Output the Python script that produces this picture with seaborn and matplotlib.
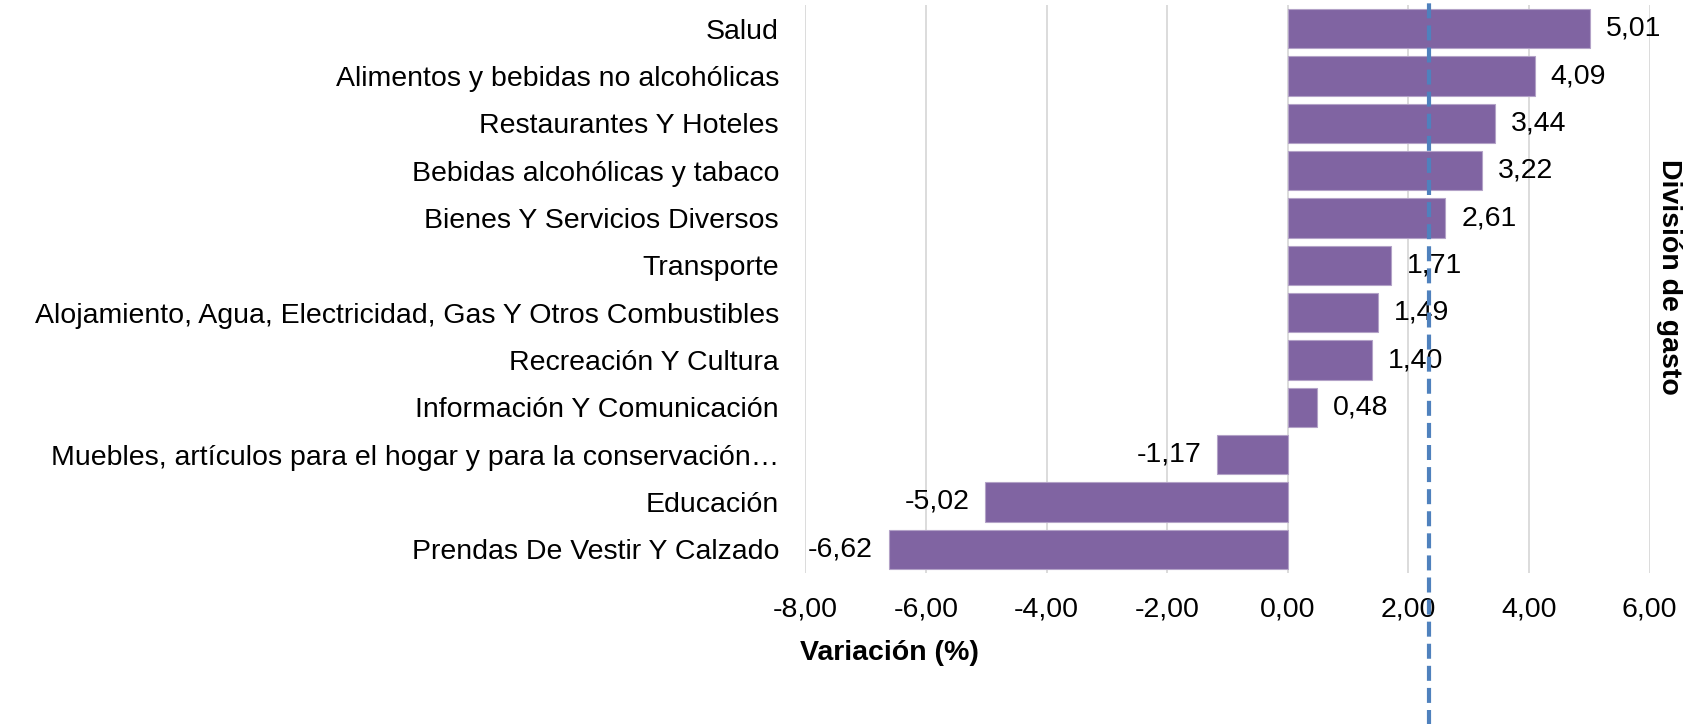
import pandas as pd
import matplotlib.pyplot as plt
import seaborn as sns
from matplotlib.ticker import FuncFormatter

plt.switch_backend("Agg")

categorias = [
    "Salud",
    "Alimentos y bebidas no alcohólicas",
    "Restaurantes Y Hoteles",
    "Bebidas alcohólicas y tabaco",
    "Bienes Y Servicios Diversos",
    "Transporte",
    "Alojamiento, Agua, Electricidad, Gas Y Otros Combustibles",
    "Recreación Y Cultura",
    "Información Y Comunicación",
    "Muebles, artículos para el hogar y para la conservación…",
    "Educación",
    "Prendas De Vestir Y Calzado",
]
variacion = [5.01, 4.09, 3.44, 3.22, 2.61, 1.71, 1.49, 1.40, 0.48, -1.17, -5.02, -6.62]
promedio = 2.34
x_ticks = [-8, -6, -4, -2, 0, 2, 4, 6]

df = pd.DataFrame({"division": categorias, "variacion": variacion})

sns.set_style("white", {"text.color": "black", "axes.labelcolor": "black",
                        "xtick.color": "black", "ytick.color": "black"})
plt.rcParams["font.family"] = ["Liberation Sans", "DejaVu Sans"]
fs = 20.5

fig = plt.figure(figsize=(16.92, 7.24), dpi=100)
ax = fig.add_axes([0.476, 0.2086, 0.499, 0.7844])

sns.barplot(data=df, x="variacion", y="division", orient="h", color="#8064A2",
            saturation=1, width=0.83, edgecolor="#B3A2C7", linewidth=0.8, ax=ax)

def fmt(v):
    return f"{v:.2f}".replace(".", ",")

# etiquetas de valor al final de cada barra
ax.bar_label(ax.containers[0], labels=[fmt(v) for v in variacion],
             padding=11.5, fontsize=fs, color="black")

ax.set_xlim(-8, 6)
ax.set_xticks(x_ticks)
ax.xaxis.set_major_formatter(FuncFormatter(lambda v, p: fmt(v)))
ax.grid(axis="x", color="#D9D9D9", linewidth=1.3)
ax.set_axisbelow(True)
for s in ax.spines.values():
    s.set_visible(False)
ax.tick_params(axis="both", length=0, labelsize=fs, labelcolor="black")
ax.tick_params(axis="y", pad=19)
ax.tick_params(axis="x", pad=17)

ax.set_xlabel("Variación (%)", fontsize=fs, fontweight="bold", color="black")
ax.xaxis.set_label_coords(0.10, -0.118)
ax.set_ylabel("División de gasto", fontsize=fs, fontweight="bold", rotation=-90, color="black")
ax.yaxis.set_label_position("right")
ax.yaxis.set_label_coords(1.038, 0.522)

# linea de referencia (promedio)
ax.axvline(promedio, ymin=-0.27, ymax=1.01, clip_on=False, color="#4F81BD",
           linewidth=3, dashes=(3.6, 1.7), zorder=5)

plt.savefig("out.png", dpi=100)
plt.close()
